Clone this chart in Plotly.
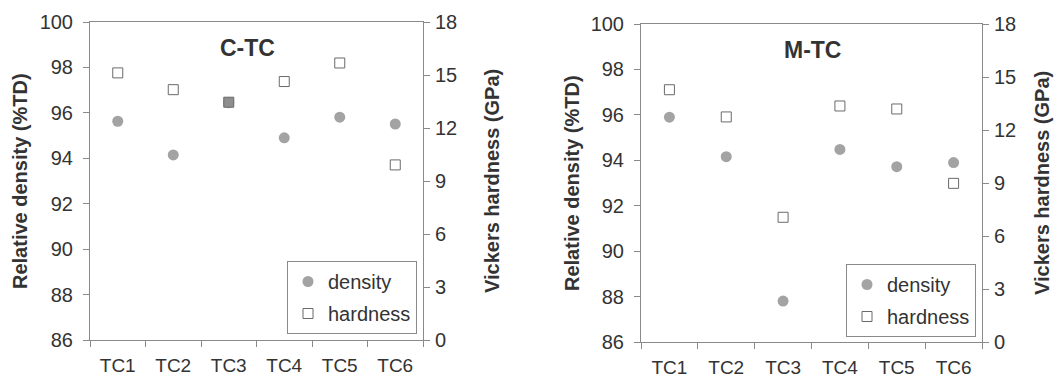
import plotly.graph_objects as go

# Sample labels
samples = ["TC1", "TC2", "TC3", "TC4", "TC5", "TC6"]

# C-TC series
ctc_density = [95.63, 94.15, 96.45, 94.90, 95.81, 95.51]      # % TD
ctc_hardness = [15.12, 14.17, 13.46, 14.63, 15.68, 9.91]      # GPa

# M-TC series
mtc_density = [95.90, 94.16, 87.80, 94.48, 93.72, 93.90]      # % TD
mtc_hardness = [14.28, 12.74, 7.06, 13.36, 13.19, 8.98]       # GPa

panel_titles = ["C-TC", "M-TC"]
density_ticks = [86, 88, 90, 92, 94, 96, 98, 100]
hardness_ticks = [0, 3, 6, 9, 12, 15, 18]

FONT = "Liberation Sans, Arial, sans-serif"
TXT = "#333333"
AX = "#8a8a8a"
DOT = "#a3a3a3"

fig = go.Figure()

panels = [
    dict(dens=ctc_density, hard=ctc_hardness, x0=90, x1=423, ytop=22, ybot=340,
         leg=(287, 334), title=(247, 48),
         ltitle=20, rtitle=492, overlap_fill=True),
    dict(dens=mtc_density, hard=mtc_hardness, x0=641, x1=982, ytop=24, ybot=342,
         leg=(846, 337), title=(812, 50),
         ltitle=572, rtitle=1042, overlap_fill=False),
]

W, H = 1061, 381
layout = dict(
    width=W, height=H, margin=dict(l=0, r=0, t=0, b=0, autoexpand=False),
    paper_bgcolor="white", plot_bgcolor="white",
    font=dict(family=FONT, color=TXT, size=20),
    showlegend=True, annotations=[],
)

for i, p in enumerate(panels):
    xa = 2 * i + 1          # main category x axis
    xb = 2 * i + 2          # overlay x axis for inner half of ticks
    ya = 4 * i + 1          # density
    yb = 4 * i + 2          # hardness
    yc = 4 * i + 3          # inner ticks, left
    yd = 4 * i + 4          # inner ticks, right

    def nm(prefix, n):
        return prefix if n == 1 else f"{prefix}{n}"

    xdom = [p["x0"] / W, p["x1"] / W]
    ydom = [1 - p["ybot"] / H, 1 - p["ytop"] / H]
    legname = "legend" if i == 0 else "legend2"

    # hardness square fill: where the two markers coincide the square reads grey
    fills = ["white"] * len(samples)
    if p["overlap_fill"]:
        fills[2] = "#8e8e8e"

    fig.add_trace(go.Scatter(
        x=samples, y=p["dens"], mode="markers", name="density",
        xaxis=nm("x", xa), yaxis=nm("y", ya), legend=legname,
        legendgroup=f"d{i}",
        marker=dict(symbol="circle", size=11, color=DOT, line=dict(width=0)),
        cliponaxis=False,
    ))
    fig.add_trace(go.Scatter(
        x=samples, y=p["hard"], mode="markers", name="hardness",
        xaxis=nm("x", xa), yaxis=nm("y", yb), legend=legname,
        legendgroup=f"h{i}",
        marker=dict(symbol="square", size=10, color=fills,
                    line=dict(width=1, color="#6a6a6a")),
        cliponaxis=False,
    ))

    common = dict(showgrid=False, zeroline=False, linecolor=AX, tickcolor=AX,
                  tickwidth=1, ticklen=6)
    layout[nm("xaxis", xa)] = dict(
        common, domain=xdom, anchor=nm("y", ya), type="category",
        categoryorder="array", categoryarray=samples, range=[-0.5, 5.5],
        tickson="boundaries", ticks="outside", showline=True, mirror=True,
        tickfont=dict(size=19, color=TXT), ticklabelstandoff=8,
    )
    layout[nm("xaxis", xb)] = dict(
        common, domain=xdom, anchor=nm("y", ya), overlaying=nm("x", xa),
        range=[-0.5, 5.5], tickmode="array",
        tickvals=[k - 0.5 for k in range(len(samples) + 1)],
        ticks="inside", showticklabels=False, showline=False,
    )
    layout[nm("yaxis", ya)] = dict(
        common, domain=ydom, anchor=nm("x", xa), range=[86, 100],
        tickmode="array", tickvals=density_ticks, ticks="outside",
        showline=True, tickfont=dict(size=20, color=TXT), ticklabelstandoff=6,
    )
    layout[nm("yaxis", yb)] = dict(
        common, domain=ydom, anchor=nm("x", xa), overlaying=nm("y", ya),
        side="right", range=[0, 18], tickmode="array", tickvals=hardness_ticks,
        ticks="outside", showline=True, tickfont=dict(size=20, color=TXT),
        ticklabelstandoff=1,
    )
    layout[nm("yaxis", yc)] = dict(
        common, domain=ydom, anchor=nm("x", xa), overlaying=nm("y", ya),
        range=[86, 100], tickmode="array", tickvals=density_ticks,
        ticks="inside", showticklabels=False, showline=False,
    )
    layout[nm("yaxis", yd)] = dict(
        common, domain=ydom, anchor=nm("x", xa), overlaying=nm("y", ya),
        side="right", range=[0, 18], tickmode="array", tickvals=hardness_ticks,
        ticks="inside", showticklabels=False, showline=False,
    )

    layout[legname] = dict(
        x=p["leg"][0] / W, y=1 - p["leg"][1] / H, xanchor="left", yanchor="bottom",
        bgcolor="white", bordercolor="#8a8a8a", borderwidth=1,
        font=dict(size=20, color=TXT, family=FONT), itemwidth=30,
        tracegroupgap=3,
    )

    # panel label and axis titles
    mid_y = 1 - ((p["ytop"] + p["ybot"]) / 2) / H
    layout["annotations"] += [
        dict(text=f"<b>{panel_titles[i]}</b>", x=p["title"][0] / W,
             y=1 - p["title"][1] / H, xref="paper", yref="paper",
             xanchor="center", yanchor="middle",
             showarrow=False, font=dict(size=23, color=TXT)),
        dict(text="<b>Relative density (%TD)</b>", x=p["ltitle"] / W,
             y=mid_y, xref="paper", yref="paper", xanchor="center", yanchor="middle",
             textangle=-90, showarrow=False, font=dict(size=20, color=TXT)),
        dict(text="<b>Vickers hardness (GPa)</b>", x=p["rtitle"] / W,
             y=mid_y, xref="paper", yref="paper", xanchor="center", yanchor="middle",
             textangle=-90, showarrow=False, font=dict(size=20, color=TXT)),
    ]

fig.update_layout(**layout)
fig.write_html("out.html")
